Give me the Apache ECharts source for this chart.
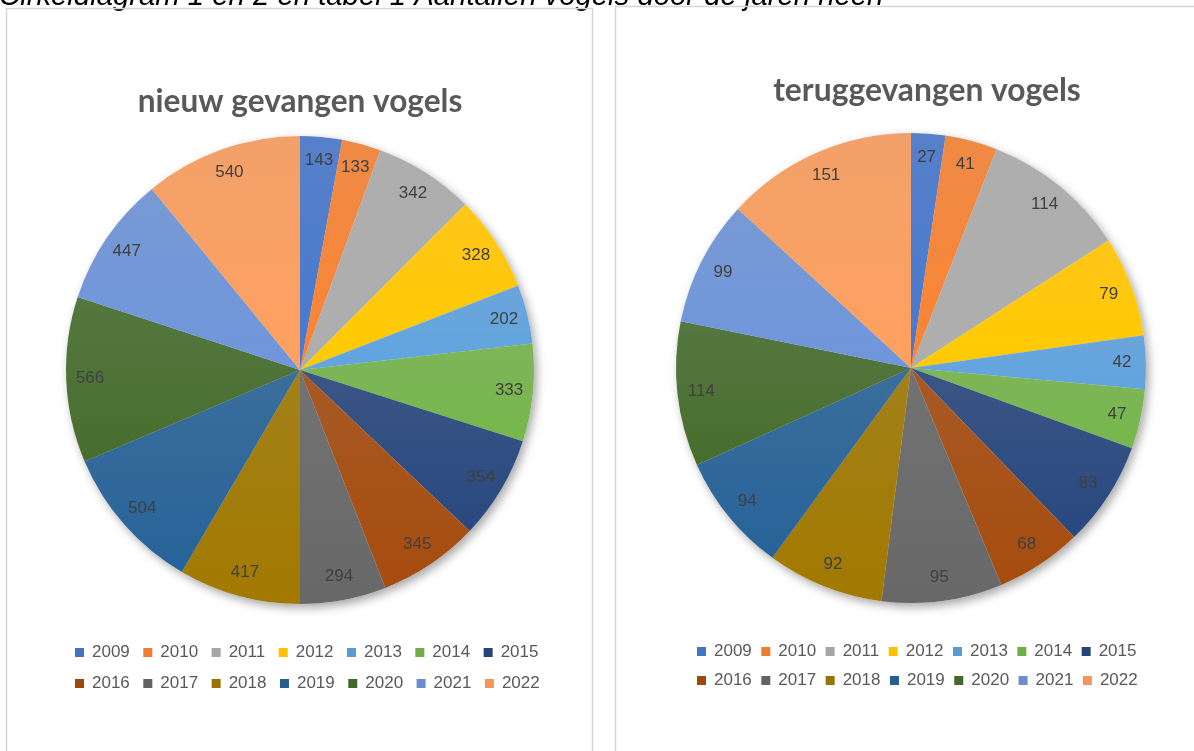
<!DOCTYPE html>
<html>
<head>
<meta charset="utf-8">
<script src="https://cdn.jsdelivr.net/npm/echarts@6/dist/echarts.min.js"></script>
<style>
  html, body { margin: 0; padding: 0; background: #fff; }
  #main { width: 1194px; height: 751px; }
</style>
</head>
<body>
<div id="main"></div>
<script>
// jaren + aantallen
var years = ['2009', '2010', '2011', '2012', '2013', '2014', '2015',
             '2016', '2017', '2018', '2019', '2020', '2021', '2022'];
var nieuwGevangen = [143, 133, 342, 328, 202, 333, 354, 345, 294, 417, 504, 566, 447, 540];
var teruggevangen = [27, 41, 114, 79, 42, 47, 83, 68, 95, 92, 94, 114, 99, 151];
var sliceColors = ['#4472C4', '#ED7D31', '#A5A5A5', '#FFC000', '#5B9BD5', '#70AD47', '#264478',
                   '#9E480E', '#636363', '#997300', '#255E91', '#43682B', '#698ED0', '#F1975A'];

var chart = echarts.init(document.getElementById('main'), null, { renderer: 'canvas' });

// licht verloop per vlak, zoals in excel
function sliceFill(c) {
    return new echarts.graphic.LinearGradient(0, 0, 0, 1, [
        { offset: 0, color: echarts.color.lift(c, 0.1) },
        { offset: 1, color: echarts.color.lift(c, -0.06) }
    ]);
}

function toData(values) {
    return years.map(function (y, i) {
        return { name: y, value: values[i], itemStyle: { color: sliceFill(sliceColors[i]) } };
    });
}

// drie lagen per taart: vlakken, schaduw eronder, labels erboven
function pieSeries(values, center, r) {
    return [
        {
            type: 'pie', center: center, radius: r, z: 2,
            data: toData(values),
            itemStyle: { borderWidth: 0 },
            label: { show: false }, labelLine: { show: false },
            emphasis: { disabled: true }
        },
        {
            type: 'pie', silent: true, center: center, radius: r, z: 1,
            data: values.map(function (v, i) { return { name: years[i], value: v }; }),
            itemStyle: { color: '#ffffff', shadowBlur: 10, shadowOffsetX: 3, shadowOffsetY: 4, shadowColor: 'rgba(0,0,0,0.35)' },
            label: { show: false }, labelLine: { show: false }
        },
        {
            type: 'pie', silent: true, center: center, radius: [r * 0.77, r], z: 3,
            data: values.map(function (v, i) { return { name: years[i], value: v }; }),
            itemStyle: { color: 'rgba(0,0,0,0)' },
            label: {
                show: true, position: 'inside', formatter: '{c}',
                color: '#404040', fontSize: 17, fontFamily: 'Liberation Sans'
            },
            labelLine: { show: false }
        }
    ];
}

function legendRow(names, left, top, gap) {
    return {
        data: names.map(function (n) {
            return { name: n, itemStyle: { color: sliceColors[years.indexOf(n)] } };
        }),
        left: left, top: top, orient: 'horizontal', padding: 0,
        itemWidth: 9, itemHeight: 9, itemGap: gap, icon: 'rect', selectedMode: false,
        textStyle: { color: '#595959', fontSize: 17, fontFamily: 'Liberation Sans', padding: [0, 0, 0, 3] }
    };
}

var titleFont = { color: '#595959', fontSize: 31.6, fontWeight: 'bold', fontFamily: 'Lato' };

chart.setOption({
    animation: false,
    title: [
        { text: 'nieuw gevangen vogels', left: 295, top: 81, textAlign: 'center', textStyle: titleFont },
        { text: 'teruggevangen vogels', left: 922, top: 70, textAlign: 'center',
          textStyle: Object.assign({}, titleFont, { fontSize: 31.8 }) }
    ],
    legend: [
        legendRow(years.slice(0, 7), 75, 644, 13.5),
        legendRow(years.slice(7), 75, 675, 13.5),
        legendRow(years.slice(0, 7), 697, 643, 9.5),
        legendRow(years.slice(7), 697, 672, 9.5)
    ],
    graphic: [
        {
            type: 'text', left: -1, top: -18,
            style: { text: 'Cirkeldiagram 1 en 2 en tabel 1 Aantallen vogels door de jaren heen',
                     font: 'italic 29.3px Liberation Sans', fill: '#000' }
        },
        {
            type: 'rect', shape: { x: 6.5, y: 8.5, width: 586, height: 800 },
            style: { fill: 'none', stroke: '#d6d6d6', lineWidth: 1.5 }
        },
        {
            type: 'rect', shape: { x: 615.5, y: 6.5, width: 620, height: 800 },
            style: { fill: 'none', stroke: '#d6d6d6', lineWidth: 1.5 }
        }
    ],
    series: [].concat(
        pieSeries(nieuwGevangen, [300, 370], 234),
        pieSeries(teruggevangen, [911, 368], 235)
    )
});
</script>
</body>
</html>
